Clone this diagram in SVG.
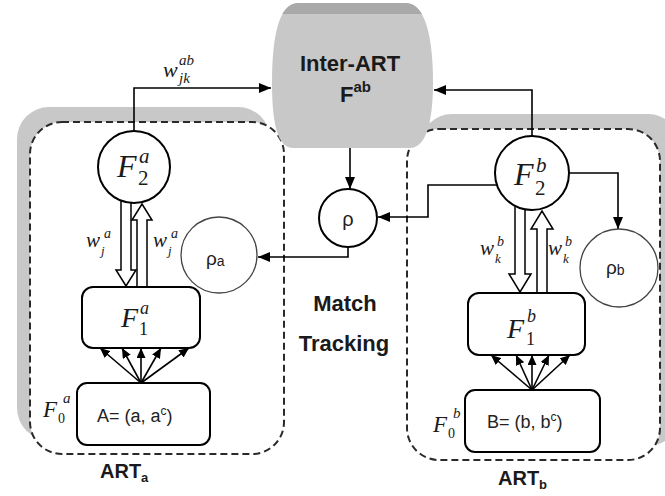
<svg xmlns="http://www.w3.org/2000/svg" width="665" height="496" viewBox="0 0 665 496">
  <style>
    .shadow { fill: #c8c8c8; }
    .module { fill: #ffffff; stroke: #2a2a2a; stroke-width: 2; stroke-dasharray: 7 4; }
    .node { fill: #ffffff; stroke: #000000; stroke-width: 2; }
    .vig { fill: #ffffff; stroke: #444444; stroke-width: 1.3; }
    .link { fill: none; stroke: #000000; stroke-width: 1.6; }
    .hollow { fill: #ffffff; stroke: #000000; stroke-width: 1.5; stroke-linejoin: miter; }
    .bold { font-family: "Liberation Sans", Arial, sans-serif; font-weight: bold; fill: #1a1a1a; }
    .sans { font-family: "Liberation Sans", Arial, sans-serif; fill: #222222; }
    .math { font-family: "Liberation Serif", "Times New Roman", serif; font-style: italic; fill: #1a1a1a; }
    .up { font-family: "Liberation Serif", "Times New Roman", serif; font-style: normal; fill: #1a1a1a; }
  </style>
  <defs>
    <marker id="ah" viewBox="0 0 12 10" refX="12" refY="5" markerWidth="12" markerHeight="10" markerUnits="userSpaceOnUse" orient="auto">
      <path d="M0,0 L12,5 L0,10 Z" fill="#000"/>
    </marker>
    <marker id="ahs" viewBox="0 0 10 9" refX="10" refY="4.5" markerWidth="10" markerHeight="9" markerUnits="userSpaceOnUse" orient="auto">
      <path d="M0,0 L10,4.5 L0,9 Z" fill="#000"/>
    </marker>
    <clipPath id="mapClip">
      <path d="M298,3 H406 C426,3 433,40 433,82 C433,122 426,148 410,148 H293 C277,148 272,122 272,82 C272,40 278,3 298,3 Z"/>
    </clipPath>
  </defs>

  <!-- module backgrounds -->
  <g id="artA-module">
    <rect class="shadow" x="17" y="107" width="253" height="333" rx="32"/>
    <rect class="module" x="30" y="122" width="254" height="332" rx="32"/>
  </g>
  <g id="artB-module">
    <rect class="shadow" x="420" y="114" width="260" height="332" rx="32"/>
    <rect class="module" x="407" y="129" width="253" height="331" rx="32"/>
  </g>

  <!-- map field -->
  <g id="inter-art">
    <g clip-path="url(#mapClip)">
      <rect x="260" y="0" width="190" height="150" fill="#c8c8c8"/>
      <rect x="260" y="0" width="190" height="14" fill="#a9a9a9"/>
    </g>
    <text class="bold" x="350" y="71" font-size="22" text-anchor="middle">Inter-ART</text>
    <text class="bold" x="340" y="102" font-size="22">F<tspan font-size="15" dy="-10">ab</tspan></text>
  </g>

  <!-- connectors -->
  <g id="connectors">
    <path class="link" d="M134,131 V88 H271" marker-end="url(#ah)"/>
    <path class="link" d="M532,136 V90 H434" marker-end="url(#ah)"/>
    <path class="link" d="M350,148 V189" marker-end="url(#ah)"/>
    <path class="link" d="M497,185 H428 V217 H378" marker-end="url(#ah)"/>
    <path class="link" d="M348,247 V257 H258" marker-end="url(#ah)"/>
    <path class="link" d="M569,173 H618 V229" marker-end="url(#ah)"/>

    <!-- bottom-up / top-down weights, ART a -->
    <polygon class="hollow" points="121,196 131,196 131,270 136,270 126,286 116,270 121,270"/>
    <polygon class="hollow" points="137,292 147,292 147,220 152,220 142,204 132,220 137,220"/>
    <!-- bottom-up / top-down weights, ART b -->
    <polygon class="hollow" points="515,205 525,205 525,274 531,274 520,292 509,274 515,274"/>
    <polygon class="hollow" points="537,298 547,298 547,229 553,229 542,211 531,229 537,229"/>

    <!-- F0 to F1 fan-out, ART a -->
    <g class="link" stroke-width="1.2">
      <line x1="141" y1="383" x2="100" y2="348" marker-end="url(#ahs)"/>
      <line x1="141" y1="383" x2="122" y2="348" marker-end="url(#ahs)"/>
      <line x1="141" y1="383" x2="141" y2="348" marker-end="url(#ahs)"/>
      <line x1="141" y1="383" x2="161" y2="348" marker-end="url(#ahs)"/>
      <line x1="141" y1="383" x2="189" y2="348" marker-end="url(#ahs)"/>
    </g>
    <!-- F0 to F1 fan-out, ART b -->
    <g class="link" stroke-width="1.2">
      <line x1="532" y1="390" x2="491" y2="355" marker-end="url(#ahs)"/>
      <line x1="532" y1="390" x2="516" y2="355" marker-end="url(#ahs)"/>
      <line x1="532" y1="390" x2="532" y2="355" marker-end="url(#ahs)"/>
      <line x1="532" y1="390" x2="549" y2="355" marker-end="url(#ahs)"/>
      <line x1="532" y1="390" x2="570" y2="355" marker-end="url(#ahs)"/>
    </g>
  </g>

  <!-- weight labels -->
  <g id="weight-labels">
    <text class="math" x="163" y="77" font-size="22">w</text>
    <text class="math" x="179" y="65" font-size="15">ab</text>
    <text class="math" x="179" y="83" font-size="15">jk</text>

    <text class="math" x="86" y="247" font-size="21">w</text>
    <text class="math" x="101" y="255" font-size="13">j</text>
    <text class="math" x="104" y="238" font-size="14">a</text>
    <text class="math" x="153" y="247" font-size="21">w</text>
    <text class="math" x="168" y="255" font-size="13">j</text>
    <text class="math" x="171" y="238" font-size="14">a</text>

    <text class="math" x="480" y="255" font-size="21">w</text>
    <text class="math" x="495" y="263" font-size="13">k</text>
    <text class="math" x="497" y="246" font-size="14">b</text>
    <text class="math" x="548" y="255" font-size="21">w</text>
    <text class="math" x="563" y="263" font-size="13">k</text>
    <text class="math" x="565" y="246" font-size="14">b</text>
  </g>

  <!-- ART a nodes -->
  <g id="F2a">
    <circle class="node" cx="134" cy="167" r="36"/>
    <text class="math" x="117" y="177" font-size="32">F</text>
    <text class="math" x="139" y="163" font-size="21">a</text>
    <text class="up" x="138" y="185" font-size="21">2</text>
  </g>
  <g id="F1a">
    <rect class="node" x="82" y="287" width="118" height="61" rx="11"/>
    <text class="math" x="121" y="327" font-size="28">F</text>
    <text class="math" x="140" y="314" font-size="18">a</text>
    <text class="up" x="139" y="335" font-size="18">1</text>
  </g>
  <g id="F0a">
    <rect class="node" x="77" y="383" width="133" height="62" rx="10"/>
    <text class="sans" x="97" y="422" font-size="18">A= (a, a<tspan font-size="12" dy="-7">c</tspan><tspan dy="7">)</tspan></text>
    <text class="math" x="43" y="417" font-size="23">F</text>
    <text class="up" x="58" y="423" font-size="14">0</text>
    <text class="math" x="63" y="403" font-size="15">a</text>
  </g>
  <g id="rho-a">
    <circle class="vig" cx="219" cy="255" r="38"/>
    <text class="sans" x="206" y="265" font-size="19">ρ<tspan font-size="14" dy="1">a</tspan></text>
  </g>
  <text class="bold" x="100" y="478" font-size="20">ART<tspan font-size="13" dy="4">a</tspan></text>

  <!-- vigilance / match tracking -->
  <g id="rho">
    <circle class="node" cx="348" cy="218" r="29"/>
    <text class="sans" x="348" y="226" font-size="20" text-anchor="middle">ρ</text>
  </g>
  <text class="bold" x="345" y="311" font-size="22" text-anchor="middle">Match</text>
  <text class="bold" x="344" y="351" font-size="22" text-anchor="middle">Tracking</text>

  <!-- ART b nodes -->
  <g id="F2b">
    <circle class="node" cx="532" cy="173" r="37"/>
    <text class="math" x="514" y="185" font-size="32">F</text>
    <text class="math" x="536" y="172" font-size="21">b</text>
    <text class="up" x="535" y="195" font-size="21">2</text>
  </g>
  <g id="F1b">
    <rect class="node" x="468" y="293" width="117" height="62" rx="11"/>
    <text class="math" x="507" y="338" font-size="28">F</text>
    <text class="math" x="527" y="322" font-size="18">b</text>
    <text class="up" x="526" y="345" font-size="18">1</text>
  </g>
  <g id="F0b">
    <rect class="node" x="465" y="390" width="135" height="62" rx="10"/>
    <text class="sans" x="487" y="428" font-size="18">B= (b, b<tspan font-size="12" dy="-7">c</tspan><tspan dy="7">)</tspan></text>
    <text class="math" x="433" y="432" font-size="23">F</text>
    <text class="up" x="448" y="438" font-size="14">0</text>
    <text class="math" x="453" y="418" font-size="15">b</text>
  </g>
  <g id="rho-b">
    <circle class="vig" cx="619" cy="268" r="39"/>
    <text class="sans" x="606" y="274" font-size="19">ρ<tspan font-size="14" dy="1">b</tspan></text>
  </g>
  <text class="bold" x="498" y="485" font-size="20">ART<tspan font-size="13" dy="4">b</tspan></text>
</svg>
